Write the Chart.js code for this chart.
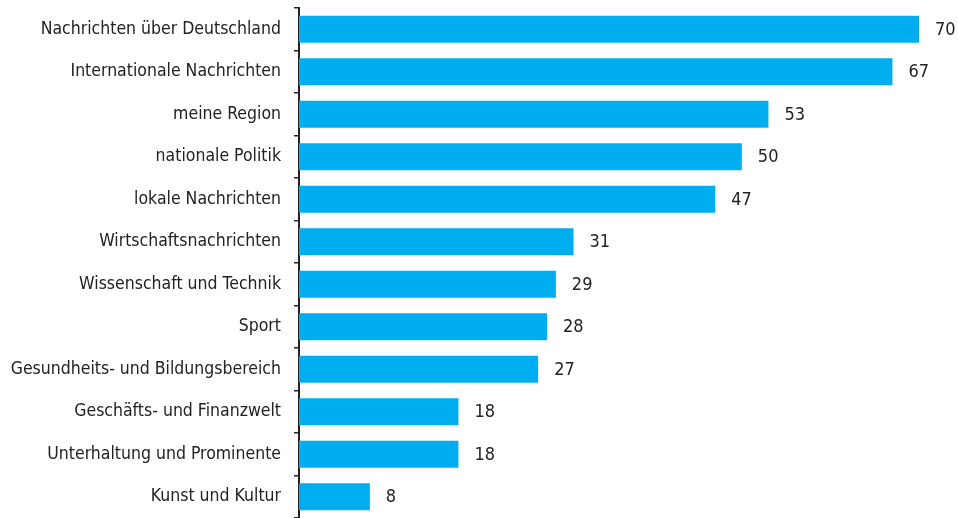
<!DOCTYPE html>
<html>
<head>
<meta charset="utf-8">
<script src="https://cdn.jsdelivr.net/npm/chart.js@4"></script>
<style>
  html, body { margin: 0; padding: 0; background: #fff; }
  #wrap { width: 958px; height: 518px; position: relative; }
</style>
</head>
<body>
<div id="wrap"><canvas id="chart"></canvas></div>
<script>
const categories = [
  "Nachrichten über Deutschland",
  "Internationale Nachrichten",
  "meine Region",
  "nationale Politik",
  "lokale Nachrichten",
  "Wirtschaftsnachrichten",
  "Wissenschaft und Technik",
  "Sport",
  "Gesundheits- und Bildungsbereich",
  "Geschäfts- und Finanzwelt",
  "Unterhaltung und Prominente",
  "Kunst und Kultur"
]
const values = [70, 67, 53, 50, 47, 31, 29, 28, 27, 18, 18, 8]

const fontFamily = "'Liberation Sans Narrow', 'DejaVu Sans Condensed', 'Roboto', sans-serif"

// draws the number right of each bar
const valueLabels = {
  id: 'valueLabels',
  afterDatasetsDraw(chart) {
    const ctx = chart.ctx
    const meta = chart.getDatasetMeta(0)
    ctx.save()
    ctx.font = "18px " + fontFamily
    ctx.fillStyle = '#222'
    ctx.textAlign = 'left'
    ctx.textBaseline = 'middle'
    meta.data.forEach((bar, i) => {
      ctx.fillText(values[i], bar.x + 16, bar.y + 1)
    })
    ctx.restore()
  }
}

new Chart(document.getElementById('chart'), {
  type: 'bar',
  data: {
    labels: categories,
    datasets: [{
      data: values,
      backgroundColor: '#00AEEF',
      categoryPercentage: 0.64,
      barPercentage: 1
    }]
  },
  options: {
    indexAxis: 'y',
    responsive: true,
    maintainAspectRatio: false,
    animation: false,
    layout: { padding: { top: 8, right: 39, bottom: 0, left: 0 } },
    plugins: { legend: { display: false }, tooltip: { enabled: false } },
    scales: {
      x: {
        display: false,
        min: 0,
        max: 70
      },
      y: {
        afterFit(scale) {
          scale.width = 299
          scale.paddingTop = 0
          scale.paddingBottom = 0
        },
        border: { display: true, color: '#222', width: 2 },
        grid: {
          drawOnChartArea: false,
          drawTicks: true,
          tickLength: 5,
          color: '#222',
          lineWidth: 1.5
        },
        ticks: {
          color: '#222',
          padding: 13,
          font: { family: fontFamily, size: 17.5 }
        }
      }
    }
  },
  plugins: [valueLabels]
})
</script>
</body>
</html>
